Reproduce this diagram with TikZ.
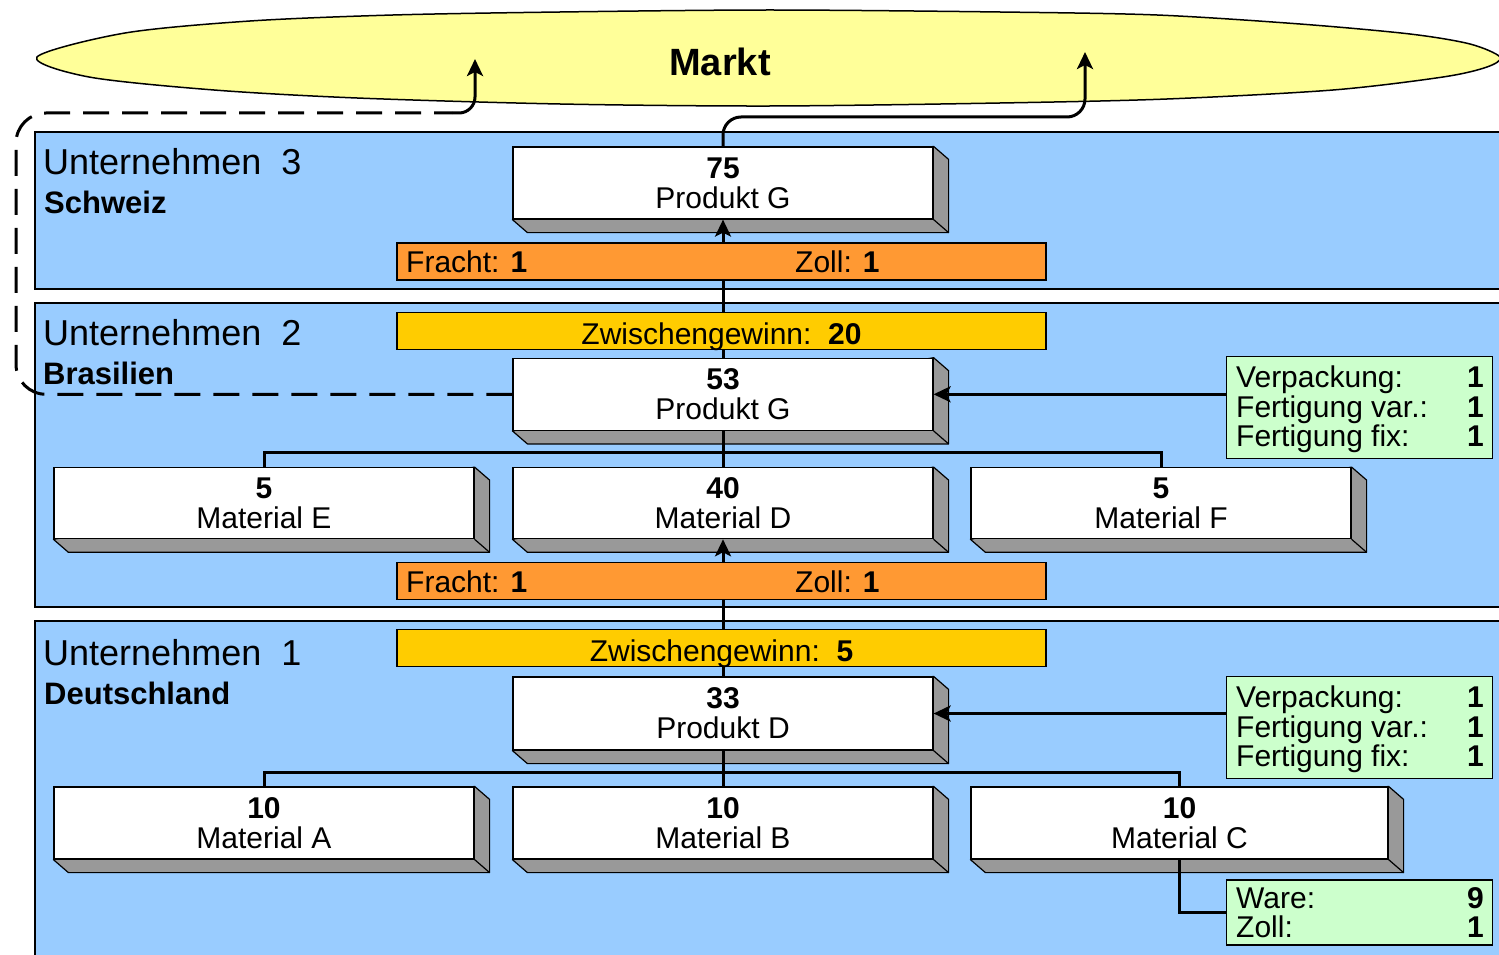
\documentclass[tikz,border=0pt]{standalone}
\usepackage{fontspec}
\setmainfont{Liberation Sans}
\usetikzlibrary{arrows.meta,calc}

\definecolor{panelblue}{HTML}{99CCFF}
\definecolor{marktyellow}{HTML}{FFFF99}
\definecolor{costorange}{HTML}{FF9933}
\definecolor{margingold}{HTML}{FFCC00}
\definecolor{infogreen}{HTML}{CCFFCC}
\definecolor{sidegrey}{HTML}{999999}

\pgfdeclarelayer{back}
\pgfdeclarelayer{depth}
\pgfdeclarelayer{wires}
\pgfsetlayers{back,depth,wires,main}

\newcommand\boxfont{\fontsize{30}{30}\selectfont}
\newcommand\firmfont{\fontsize{36}{36}\selectfont}

% grey right and bottom faces behind a white box
\newcommand\solidside[1]{%
  \begin{pgfonlayer}{depth}
    \draw[sideface] (#1.north east) -- ++(15,13) -- ($(#1.south east)+(15,13)$)
      -- ($(#1.south west)+(15,13)$) -- (#1.south west) -- cycle;
    \draw[sideface] (#1.south east) -- ++(15,13);
  \end{pgfonlayer}}

\tikzset{
  panel/.style={draw=black, line width=1.6pt, fill=panelblue},
  sideface/.style={draw=black, fill=sidegrey, line width=1.2pt, line join=round},
  whitebox/.style={draw, fill=white, line width=1.2pt, inner sep=0pt,
    minimum height=72pt, align=center, font=\boxfont},
  bar/.style={draw, line width=1.2pt, inner sep=0pt,
    minimum width=649pt, minimum height=37pt},
  infobox/.style={draw, fill=infogreen, line width=1.2pt, inner sep=0pt,
    minimum width=266pt},
  lbl/.style={inner sep=0pt, font=\boxfont},
  firm/.style={inner sep=0pt, font=\firmfont, anchor=base west},
  country/.style={inner sep=0pt, font=\fontsize{31}{31}\selectfont\bfseries, anchor=base west},
  wire/.style={line width=3pt},
  flow/.style={wire, -{Stealth[length=17pt,width=16pt,inset=4pt]}},
}

\begin{document}
\begin{tikzpicture}[x=1pt,y=-1pt]
\useasboundingbox (0,0) rectangle (1499,955);

% company panels and the market
\begin{pgfonlayer}{back}
  \fill[white] (0,0) rectangle (1499,955);
  \draw[panel] (35,132) rectangle (1530,289);
  \draw[panel] (35,303) rectangle (1530,607);
  \draw[panel] (35,621) rectangle (1530,975);
  \draw[fill=marktyellow, line width=1.5pt] plot[smooth cycle, tension=0.5] coordinates {
    (37,57) (125,33) (250,21) (393,15) (560,12) (770,10) (1000,12) (1157,15)
    (1300,24) (1410,34) (1470,44) (1500,57) (1487,67) (1443,77) (1333,90)
    (1167,99) (1000,103) (770,106) (560,104) (357,98) (214,90) (89,77)};
\end{pgfonlayer}

\node[inner sep=0pt, anchor=base, font=\fontsize{38}{38}\selectfont\bfseries] (markt) at (720,76) {Markt};

% Unternehmen 3
\node[firm] (u3) at (43,174) {Unternehmen\ \ 3};
\node[country] (c3) at (44,213) {Schweiz};
\node[whitebox, minimum width=420pt] (PG3) at (723,183) {\textbf{75}\\Produkt G};
\solidside{PG3}
\node[bar, fill=costorange] (fz3) at (721.5,261.5) {};
\node[lbl, anchor=base west] (fz3a) at (406,272) {Fracht: \textbf{1}};
\node[lbl, anchor=base west] (fz3b) at (795,272) {Zoll: \textbf{1}};

% Unternehmen 2
\node[firm] (u2) at (43,345) {Unternehmen\ \ 2};
\node[country] (c2) at (43,384) {Brasilien};
\node[bar, fill=margingold] (zg2) at (721.5,331) {};
\node[lbl, anchor=base] (zg2t) at (721.5,344) {Zwischengewinn:\ \ \textbf{20}};
\node[whitebox, minimum width=420pt] (PG2) at (723,394.3) {\textbf{53}\\Produkt G};
\solidside{PG2}
\node[whitebox, minimum width=420pt, minimum height=71pt] (MatE) at (264,503.2) {\textbf{5}\\Material E};
\solidside{MatE}
\node[whitebox, minimum width=420pt, minimum height=71pt] (MatD) at (723,503.2) {\textbf{40}\\Material D};
\solidside{MatD}
\node[whitebox, minimum width=380pt, minimum height=71pt] (MatF) at (1161,503.2) {\textbf{5}\\Material F};
\solidside{MatF}
\node[bar, fill=costorange] (fz2) at (721.5,581) {};
\node[lbl, anchor=base west] (fz2a) at (406,592) {Fracht: \textbf{1}};
\node[lbl, anchor=base west] (fz2b) at (795,592) {Zoll: \textbf{1}};
\node[infobox, minimum height=102pt] (g2) at (1359.3,407.2) {};
\node[lbl, anchor=base west] (g2a) at (1236,387) {Verpackung:};
\node[lbl, anchor=base west] (g2b) at (1236,417) {Fertigung var.:};
\node[lbl, anchor=base west] (g2c) at (1236,446) {Fertigung fix:};
\node[lbl, anchor=base east] (g2x) at (1484,387) {\textbf{1}};
\node[lbl, anchor=base east] (g2y) at (1484,417) {\textbf{1}};
\node[lbl, anchor=base east] (g2z) at (1484,446) {\textbf{1}};

% Unternehmen 1
\node[firm] (u1) at (43,665) {Unternehmen\ \ 1};
\node[country] (c1) at (44,704) {Deutschland};
\node[bar, fill=margingold] (zg1) at (721.5,648) {};
\node[lbl, anchor=base] (zg1t) at (721.5,661) {Zwischengewinn:\ \ \textbf{5}};
\node[whitebox, minimum width=420pt, minimum height=73pt] (PD) at (723,713.5) {\textbf{33}\\Produkt D};
\solidside{PD}
\node[whitebox, minimum width=420pt] (MatA) at (264,823) {\textbf{10}\\Material A};
\solidside{MatA}
\node[whitebox, minimum width=420pt] (MatB) at (723,823) {\textbf{10}\\Material B};
\solidside{MatB}
\node[whitebox, minimum width=417pt] (MatC) at (1179.5,823) {\textbf{10}\\Material C};
\solidside{MatC}
\node[infobox, minimum height=102pt] (g1) at (1359.3,727.5) {};
\node[lbl, anchor=base west] (g1a) at (1236,707) {Verpackung:};
\node[lbl, anchor=base west] (g1b) at (1236,737) {Fertigung var.:};
\node[lbl, anchor=base west] (g1c) at (1236,766) {Fertigung fix:};
\node[lbl, anchor=base east] (g1x) at (1484,707) {\textbf{1}};
\node[lbl, anchor=base east] (g1y) at (1484,737) {\textbf{1}};
\node[lbl, anchor=base east] (g1z) at (1484,766) {\textbf{1}};
\node[infobox, minimum height=65pt] (ware) at (1359.3,912.5) {};
\node[lbl, anchor=base west] (warea) at (1236,908) {Ware:};
\node[lbl, anchor=base west] (wareb) at (1236,937) {Zoll:};
\node[lbl, anchor=base east] (warex) at (1484,908) {\textbf{9}};
\node[lbl, anchor=base east] (warey) at (1484,937) {\textbf{1}};

% turning points of the connectors
\coordinate (mkturn) at (1085,117);
\coordinate (mktip) at (1085,52);
\coordinate (dl1) at (16,394.3);
\coordinate (dl2) at (16,113);
\coordinate (dl3) at (452,113);
\coordinate (dl4) at (475,113);
\coordinate (dltip) at (475,59);
\coordinate (bus2) at (723,452);
\coordinate (bus1) at (723,772);

\begin{pgfonlayer}{wires}
  \draw[flow, rounded corners=18pt] (PG3.north) |- (mkturn) -- (mktip);
  \draw[wire, dash pattern=on 26pt off 13pt, rounded corners=30pt]
    (PG2.west) -- (dl1) -- (dl2) -- (dl3);
  \draw[flow, rounded corners=16pt] (dl3) -- (dl4) -- (dltip);
  \draw[flow] (PG2.north) -- (PG3.south);
  \draw[wire] (PG2.south) -- (MatD.north);
  \draw[wire] (MatE.north) |- (bus2) -| (MatF.north);
  \draw[flow] (g2.west |- PG2.east) -- (PG2.east);
  \draw[flow] (PD.north) -- (MatD.south);
  \draw[wire] (PD.south) -- (MatB.north);
  \draw[wire] (MatA.north) |- (bus1) -| (MatC.north);
  \draw[flow] (g1.west |- PD.east) -- (PD.east);
  \draw[wire] (MatC.south) |- (ware.west);
\end{pgfonlayer}
\end{tikzpicture}
\end{document}
